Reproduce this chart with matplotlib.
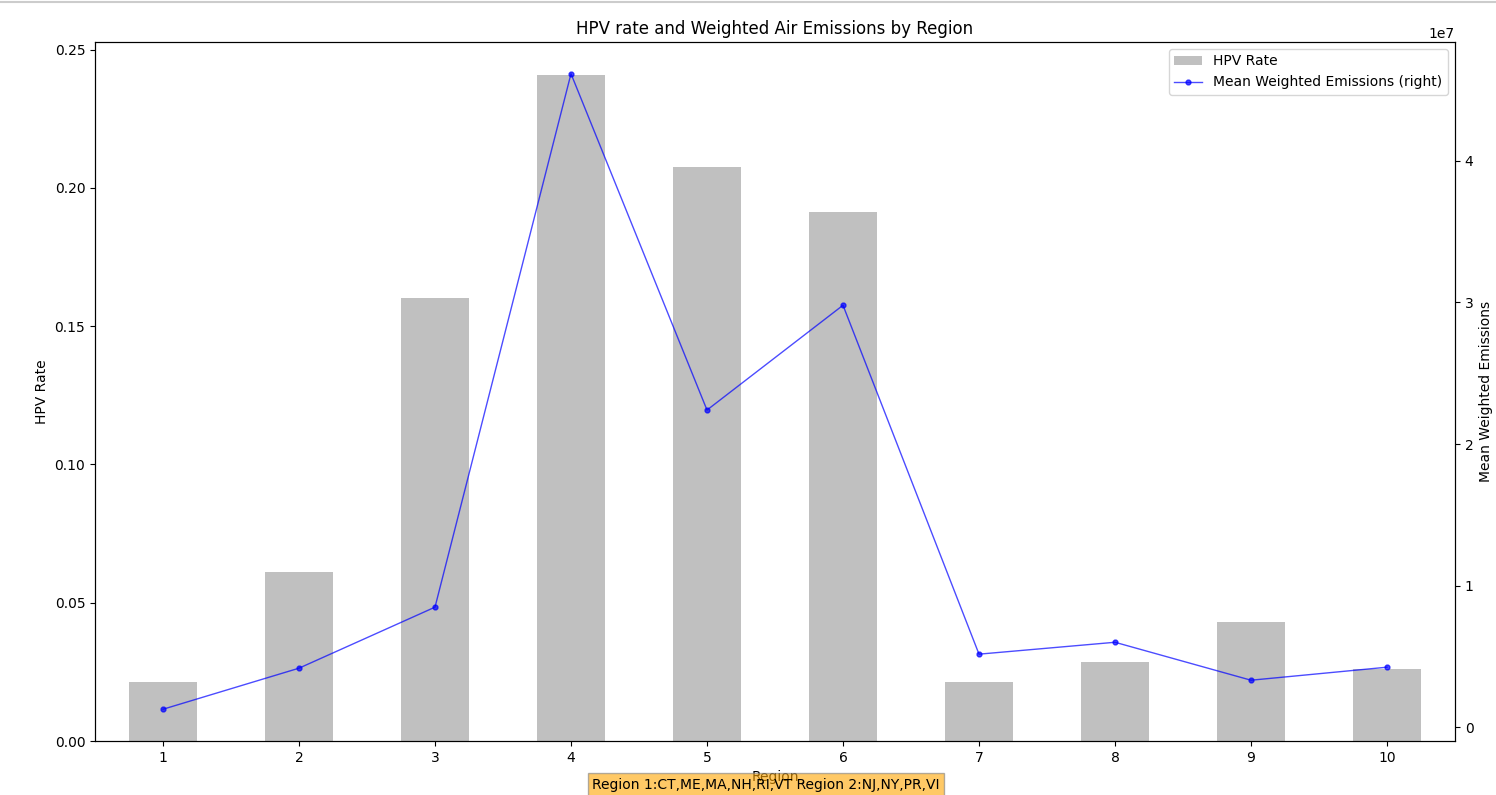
import matplotlib
matplotlib.use("Agg")
import matplotlib.pyplot as plt
from matplotlib.lines import Line2D
import numpy as np

regions = ["1", "2", "3", "4", "5", "6", "7", "8", "9", "10"]
hpv_rate = [0.0213, 0.0611, 0.1603, 0.2407, 0.2077, 0.1914, 0.0213, 0.0286, 0.0431, 0.0260]
emissions = [0.127e7, 0.417e7, 0.848e7, 4.615e7, 2.24e7, 2.98e7, 0.516e7, 0.60e7, 0.332e7, 0.424e7]
note = "Region 1:CT,ME,MA,NH,RI,VT Region 2:NJ,NY,PR,VI"

fig = plt.figure(figsize=(14.96, 7.95), dpi=100)
ax = fig.add_axes([0.0635, 0.0679, 0.9091, 0.8793])
x = np.arange(len(regions))
ax.bar(x, hpv_rate, width=0.5, color="silver", label="HPV Rate")
ax.set_xlim(-0.5, len(regions) - 0.5)
ax.set_ylim(0, max(hpv_rate) * 1.05)
ax.set_xticks(x)
ax.set_xticklabels(regions)
ax.set_ylabel("HPV Rate")
ax.set_xlabel("Region")
ax.set_title("HPV rate and Weighted Air Emissions by Region")

ax2 = ax.twinx()
ax2.plot(x, emissions, color="blue", marker="o", markersize=3.5, linewidth=1,
         alpha=0.7, label="Mean Weighted Emissions (right)")
ax2.set_ylabel("Mean Weighted Emissions")
lo, hi = min(emissions), max(emissions)
pad = (hi - lo) * 0.05
ax2.set_ylim(lo - pad, hi + pad)

h1, l1 = ax.get_legend_handles_labels()
h2, l2 = ax2.get_legend_handles_labels()
ax2.legend(h1 + h2, l1 + l2, loc="upper right")

fig.text(0.512, 0.013, note, ha="center", va="center", fontsize=10,
         bbox=dict(facecolor="orange", alpha=0.6, edgecolor="gray", pad=3))

fig.add_artist(Line2D([0, 1], [0.9975, 0.9975], color="#cccccc", linewidth=1.5,
                      transform=fig.transFigure))

fig.savefig("out.png", dpi=100)
